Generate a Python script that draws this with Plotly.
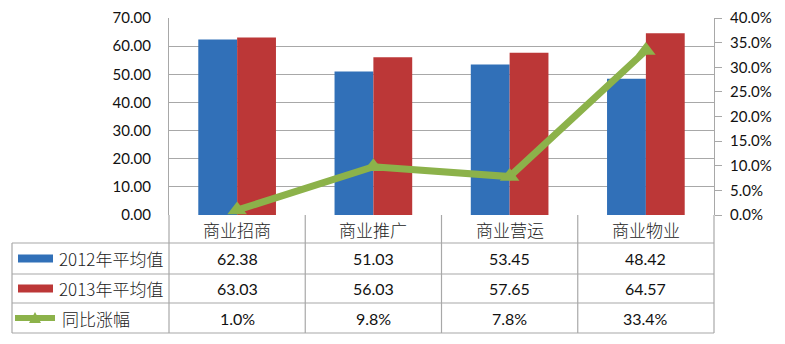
import plotly.graph_objects as go

categories = ["商业招商", "商业推广", "商业营运", "商业物业"]
avg_2012 = [62.38, 51.03, 53.45, 48.42]
avg_2013 = [63.03, 56.03, 57.65, 64.57]
yoy_growth = [0.010, 0.098, 0.078, 0.334]
series_names = ["2012年平均值", "2013年平均值", "同比涨幅"]

BLUE = "#3170B8"
RED = "#BC3737"
GREEN = "#8CB24A"
GRID = "#A8A8A8"
LATIN = "Lato, 'Noto Sans CJK SC', sans-serif"
CJK = "'Noto Sans CJK SC', sans-serif"

fig = go.Figure()
fig.add_trace(go.Bar(x=categories, y=avg_2012, name=series_names[0],
                     marker=dict(color=BLUE, line=dict(width=0))))
fig.add_trace(go.Bar(x=categories, y=avg_2013, name=series_names[1],
                     marker=dict(color=RED, line=dict(width=0))))
fig.add_trace(go.Scatter(x=categories, y=yoy_growth, name=series_names[2], yaxis="y2",
                         mode="lines+markers", cliponaxis=False,
                         line=dict(color=GREEN, width=7),
                         marker=dict(symbol="triangle-up", size=17, color=GREEN)))

# --- data table under the plot (paper coordinates; plot area spans y 0..1) ---
H = 197.0  # plot height in px
W = 545.0  # plot width in px
def py(px_from_bottom):
    return -px_from_bottom / H

row_lines = [py(28), py(59), py(88), py(118)]
row_centres = [py(14), py(43.5), py(73.5), py(103)]
left_edge = -157 / W

shapes = []
# horizontal rules of the table
for yv in row_lines:
    shapes.append(dict(type="line", xref="paper", yref="paper", x0=left_edge, x1=1,
                       y0=yv, y1=yv, line=dict(color=GRID, width=1.2)))
# vertical rules
shapes.append(dict(type="line", xref="paper", yref="paper", x0=left_edge, x1=left_edge,
                   y0=row_lines[0], y1=row_lines[-1], line=dict(color=GRID, width=1.2)))
for k in range(len(categories) + 1):
    xv = k / len(categories)
    shapes.append(dict(type="line", xref="paper", yref="paper", x0=xv, x1=xv,
                       y0=0, y1=row_lines[-1], line=dict(color=GRID, width=1.2)))

# legend keys inside the table
kx0, kx1 = -151 / W, -116 / W
for colour, yc in [(BLUE, row_centres[1]), (RED, row_centres[2])]:
    shapes.append(dict(type="rect", xref="paper", yref="paper", x0=kx0, x1=kx1,
                       y0=yc - 4 / H, y1=yc + 4 / H, fillcolor=colour, line=dict(width=0)))
yc = row_centres[3]
shapes.append(dict(type="line", xref="paper", yref="paper", x0=-154 / W, x1=-114 / W,
                   y0=yc, y1=yc, line=dict(color=GREEN, width=6)))
tx = -134 / W
shapes.append(dict(type="path", xref="paper", yref="paper",
                   path=f"M {tx - 6/W} {yc - 5/H} L {tx + 6/W} {yc - 5/H} L {tx} {yc + 6/H} Z",
                   fillcolor=GREEN, line=dict(width=0)))

def cell(x, y, text, font, xref="x", xanchor="center"):
    return dict(x=x, xref=xref, y=y, yref="paper", text=text, showarrow=False,
                xanchor=xanchor, yanchor="middle", font=font)

num_font = dict(family=LATIN, size=16, color="#111")
cjk_font = dict(family=CJK, size=17, color="#222", weight=300)

annotations = []
for i, cat in enumerate(categories):
    annotations.append(cell(cat, row_centres[0], cat, cjk_font))
    annotations.append(cell(cat, row_centres[1], f"{avg_2012[i]:.2f}", num_font))
    annotations.append(cell(cat, row_centres[2], f"{avg_2013[i]:.2f}", num_font))
    annotations.append(cell(cat, row_centres[3], f"{yoy_growth[i]*100:.1f}%", num_font))
for name, yc in zip(series_names, row_centres[1:]):
    xa = (-112 if name != series_names[2] else -109) / W
    annotations.append(cell(xa, yc, name, cjk_font, xref="paper", xanchor="left"))

fig.update_layout(
    width=785, height=344,
    margin=dict(l=169, r=71, t=18, b=129, autoexpand=False),
    paper_bgcolor="white", plot_bgcolor="white",
    showlegend=False,
    barmode="group", bargap=0.43, bargroupgap=0,
    font=dict(family=LATIN, size=15, color="#111"),
    xaxis=dict(showticklabels=False, showgrid=False, zeroline=False,
               showline=False, ticks="", automargin=False),
    yaxis=dict(range=[0, 70], dtick=10, tickformat=".2f", automargin=False,
               showgrid=True, gridcolor=GRID, gridwidth=1.2,
               showline=True, linecolor=GRID, linewidth=1.2,
               zeroline=False, ticks="", ticklabelstandoff=14,
               tickfont=dict(family=LATIN, size=15, color="#111")),
    yaxis2=dict(range=[0, 0.40], dtick=0.05, tickformat=".1%", overlaying="y",
                side="right", showgrid=False, zeroline=False, automargin=False,
                showline=True, linecolor=GRID, linewidth=1.2,
                ticks="outside", ticklen=7, tickcolor=GRID, tickwidth=1.2,
                ticklabelstandoff=5,
                tickfont=dict(family=LATIN, size=15, color="#111")),
    shapes=shapes,
    annotations=annotations,
)

fig.write_html("out.html")
